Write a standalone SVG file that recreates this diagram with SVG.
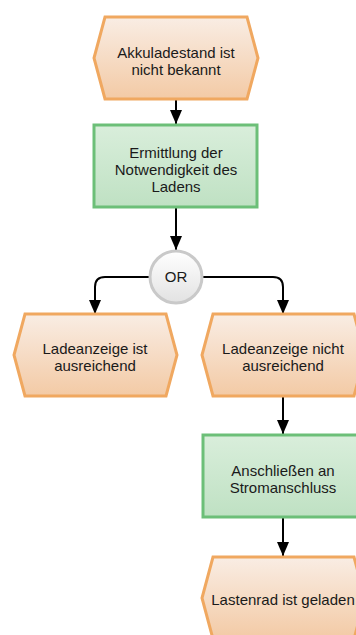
<svg xmlns="http://www.w3.org/2000/svg" width="356" height="635" viewBox="0 0 356 635">
<defs>
<linearGradient id="gEv" x1="0" y1="0" x2="0" y2="1"><stop offset="0" stop-color="#f9ede4"/><stop offset="1" stop-color="#f3caa5"/></linearGradient>
<linearGradient id="gFn" x1="0" y1="0" x2="0" y2="1"><stop offset="0" stop-color="#d9eedb"/><stop offset="1" stop-color="#bfe1c3"/></linearGradient>
<linearGradient id="gOr" x1="0" y1="0" x2="0" y2="1"><stop offset="0" stop-color="#ffffff"/><stop offset="1" stop-color="#e2e2e2"/></linearGradient>
<marker id="ah" markerWidth="14" markerHeight="12" refX="14" refY="6" orient="auto" markerUnits="userSpaceOnUse"><path d="M0,0 L14,6 L0,12 Z" fill="#000"/></marker>
</defs>
<style>
.ev{fill:url(#gEv);stroke:#f0a860;stroke-width:3;stroke-linejoin:miter}
.fn{fill:url(#gFn);stroke:#6cbf78;stroke-width:3}
.op{fill:url(#gOr);stroke:#c9c9c9;stroke-width:3}
.t{font-family:"Liberation Sans",Arial,sans-serif;font-size:15px;fill:#1a1a1a;text-anchor:middle}
.c{fill:none;stroke:#000;stroke-width:2;marker-end:url(#ah)}
</style>
<g id="connectors">
<path class="c" d="M176,99 L176,124"/>
<path class="c" d="M176,207 L176,250"/>
<path class="c" d="M149,277 L105,277 Q95,277 95,287 L95,314"/>
<path class="c" d="M203,277 L273,277 Q283,277 283,287 L283,314"/>
<path class="c" d="M283,396 L283,434"/>
<path class="c" d="M283,517 L283,556"/>
</g>
<g id="e1">
<polygon class="ev" points="105,17 247,17 258,58 247,99 105,99 94,58"/>
<text class="t" x="176" y="58">Akkuladestand ist</text>
<text class="t" x="176" y="75">nicht bekannt</text>
</g>
<g id="f1">
<rect class="fn" x="94" y="125" width="163" height="82"/>
<text class="t" x="176" y="158">Ermittlung der</text>
<text class="t" x="176" y="175">Notwendigkeit des</text>
<text class="t" x="176" y="192">Ladens</text>
</g>
<g id="or1">
<circle class="op" cx="176" cy="277" r="26"/>
<text class="t" x="176" y="282">OR</text>
</g>
<g id="e2">
<polygon class="ev" points="25,314 166,314 177,355 166,396 25,396 14,355"/>
<text class="t" x="95" y="354">Ladeanzeige ist</text>
<text class="t" x="95" y="371">ausreichend</text>
</g>
<g id="e3">
<polygon class="ev" points="213,314 354,314 365,355 354,396 213,396 202,355"/>
<text class="t" x="283" y="354">Ladeanzeige nicht</text>
<text class="t" x="283" y="371">ausreichend</text>
</g>
<g id="f2">
<rect class="fn" x="203" y="435" width="163" height="82"/>
<text class="t" x="283" y="476">Anschließen an</text>
<text class="t" x="283" y="493">Stromanschluss</text>
</g>
<g id="e4">
<polygon class="ev" points="213,557 354,557 365,598 354,639 213,639 202,598"/>
<text class="t" x="283" y="605">Lastenrad ist geladen</text>
</g>
</svg>
